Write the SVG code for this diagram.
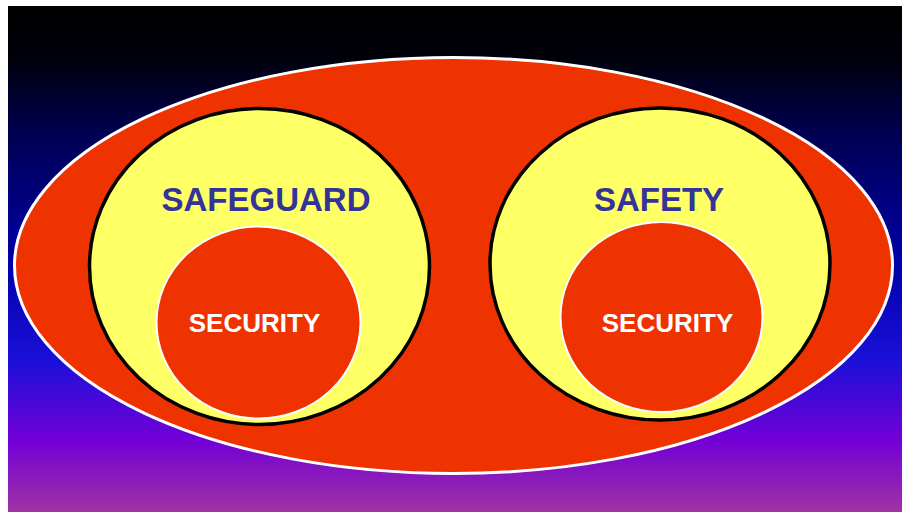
<svg xmlns="http://www.w3.org/2000/svg" width="908" height="512" viewBox="0 0 908 512">
<defs>
<linearGradient id="bg" x1="0" y1="0" x2="0" y2="1">
<stop offset="0" stop-color="#000000"/>
<stop offset="0.1" stop-color="#00000a"/>
<stop offset="0.25" stop-color="#000050"/>
<stop offset="0.5" stop-color="#0000a8"/>
<stop offset="0.7" stop-color="#1a10d8"/>
<stop offset="0.86" stop-color="#7300d6"/>
<stop offset="1" stop-color="#a033a3"/>
</linearGradient>
<style>
.outer{fill:#ee3300;stroke:#ffffff;stroke-width:3}
.ring{fill:#ffff66;stroke:#000000;stroke-width:3.5}
.core{fill:#ee3300;stroke:#ffffff;stroke-width:2}
.big{font-family:"Liberation Sans",Arial,sans-serif;font-weight:bold;font-size:33px;fill:#333399;text-anchor:middle}
.small{font-family:"Liberation Sans",Arial,sans-serif;font-weight:bold;font-size:26px;fill:#ffffff;text-anchor:middle}
</style>
</defs>
<rect x="0" y="0" width="908" height="512" fill="#ffffff"/>
<rect x="8" y="6" width="894" height="506" fill="url(#bg)"/>
<g id="outer">
<ellipse class="outer" cx="453.5" cy="265.5" rx="439" ry="208"/>
</g>
<g id="safeguard">
<ellipse class="ring" cx="259.5" cy="266.5" rx="170" ry="158"/>
<text class="big" x="266" y="211">SAFEGUARD</text>
</g>
<g id="security-left">
<ellipse class="core" cx="258.5" cy="322.5" rx="102" ry="96"/>
<text class="small" x="254.5" y="332">SECURITY</text>
</g>
<g id="safety">
<ellipse class="ring" cx="660" cy="264" rx="170" ry="156"/>
<text class="big" x="659" y="211">SAFETY</text>
</g>
<g id="security-right">
<ellipse class="core" cx="661.5" cy="317" rx="101" ry="95"/>
<text class="small" x="667.5" y="332">SECURITY</text>
</g>
<g id="connectors"/>
</svg>
